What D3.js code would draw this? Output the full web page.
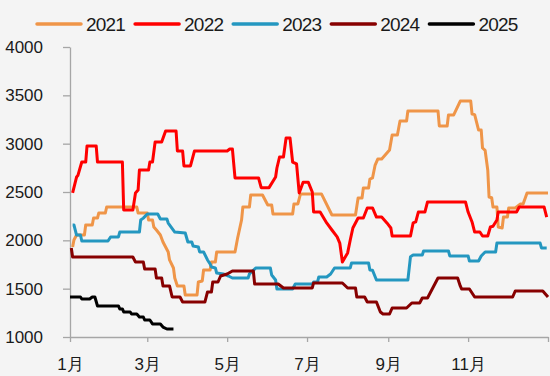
<!DOCTYPE html>
<html>
<head>
<meta charset="utf-8">
<script src="https://cdn.jsdelivr.net/npm/d3@7"></script>
<style>
  body { margin: 0; background: #f4f4f4; }
  svg { display: block; font-family: "Liberation Sans", Arial, "Noto Sans CJK SC", sans-serif; }
</style>
</head>
<body>
<div id="chart"></div>
<script>
// series: [day of year, value]
const years = ["2021", "2022", "2023", "2024", "2025"];
const colors = ["#ef9548", "#ff0000", "#2497c0", "#870000", "#000000"];

const s2021 = [[2,1931],[3,2003],[5,2055],[11,2055],[12,2159],[17,2159],[18,2231],[21,2231],[22,2283],[27,2283],[28,2345],[51,2345],[52,2283],[59,2283],[60,2210],[63,2210],[64,2138],[66,2107],[69,2055],[71,1983],[73,1931],[75,1880],[76,1797],[79,1714],[80,1610],[82,1528],[87,1528],[88,1434],[97,1434],[98,1569],[101,1580],[102,1693],[107,1693],[108,1776],[111,1776],[112,1880],[126,1880],[128,2024],[129,2086],[131,2210],[132,2345],[137,2345],[138,2469],[147,2469],[151,2366],[154,2366],[155,2272],[170,2272],[171,2376],[174,2376],[176,2480],[192,2480],[200,2262],[218,2262],[220,2438],[223,2438],[224,2541],[228,2541],[229,2634],[231,2645],[233,2779],[235,2841],[238,2841],[242,2903],[244,2935],[246,3090],[250,3090],[252,3234],[257,3234],[258,3338],[281,3338],[282,3183],[288,3183],[289,3297],[293,3297],[298,3441],[306,3441],[307,3307],[309,3300],[312,3141],[314,3141],[315,2955],[317,2930],[319,2728],[320,2448],[322,2440],[323,2345],[326,2345],[327,2138],[330,2128],[331,2241],[334,2241],[335,2335],[340,2335],[344,2376],[346,2376],[349,2490],[365,2490]];

const s2022 = [[2,2490],[5,2655],[6,2670],[9,2810],[12,2810],[13,2976],[20,2976],[21,2810],[40,2810],[41,2314],[48,2314],[50,2490],[52,2520],[53,2727],[60,2727],[61,2810],[63,2810],[65,3017],[70,3017],[73,3131],[81,3131],[82,2924],[86,2924],[87,2770],[92,2770],[95,2924],[120,2924],[122,2945],[124,2945],[126,2645],[144,2645],[146,2545],[152,2545],[157,2655],[158,2748],[160,2862],[163,2862],[165,3059],[168,3059],[170,2810],[173,2790],[175,2490],[178,2600],[182,2600],[185,2500],[186,2293],[191,2293],[196,2180],[200,2107],[204,2035],[206,1972],[208,1776],[212,1870],[214,2003],[216,2128],[220,2231],[224,2231],[227,2335],[231,2335],[234,2241],[238,2241],[242,2180],[245,2128],[246,2045],[260,2045],[262,2180],[264,2190],[266,2293],[271,2293],[273,2397],[302,2397],[304,2293],[307,2190],[309,2086],[313,2086],[315,2045],[319,2045],[321,2138],[323,2145],[326,2210],[327,2293],[341,2293],[343,2345],[362,2345],[364,2241]];

const s2023 = [[2,2159],[3,2159],[5,2055],[8,2055],[9,1993],[29,1993],[31,2035],[37,2035],[38,2086],[53,2086],[54,2210],[56,2230],[59,2272],[67,2272],[69,2221],[74,2221],[75,2179],[80,2086],[88,2076],[90,1983],[93,1983],[94,1941],[98,1931],[99,1880],[102,1880],[105,1797],[107,1755],[108,1724],[111,1714],[112,1662],[117,1652],[121,1631],[124,1610],[136,1610],[137,1652],[142,1714],[153,1714],[154,1641],[157,1590],[158,1497],[170,1497],[172,1548],[185,1548],[186,1569],[189,1569],[190,1621],[196,1621],[199,1652],[202,1714],[214,1714],[215,1766],[228,1766],[229,1693],[231,1690],[234,1590],[258,1590],[260,1831],[262,1848],[269,1848],[270,1890],[289,1890],[290,1838],[304,1838],[305,1786],[312,1786],[314,1838],[317,1880],[325,1880],[326,1972],[359,1972],[360,1921],[364,1921]];

const s2024 = [[1,1921],[2,1828],[48,1828],[50,1776],[56,1776],[57,1703],[65,1703],[66,1610],[70,1610],[71,1528],[76,1528],[78,1414],[84,1414],[86,1362],[103,1362],[105,1466],[108,1466],[109,1569],[113,1569],[115,1631],[120,1652],[124,1683],[140,1683],[141,1548],[159,1548],[163,1507],[185,1507],[186,1559],[208,1559],[212,1507],[218,1507],[219,1414],[225,1414],[227,1362],[234,1362],[237,1259],[239,1238],[244,1238],[246,1300],[257,1300],[261,1352],[267,1352],[269,1403],[273,1403],[281,1610],[296,1610],[298,1528],[299,1497],[305,1497],[309,1414],[338,1414],[340,1476],[361,1476],[365,1414]];

const s2025 = [[0,1414],[8,1414],[9,1393],[15,1393],[17,1414],[19,1414],[21,1321],[37,1321],[38,1290],[40,1290],[41,1259],[46,1259],[47,1238],[51,1238],[53,1207],[56,1207],[57,1176],[61,1176],[63,1135],[69,1135],[71,1103],[74,1083],[79,1083]];

const series = [s2021, s2022, s2023, s2024, s2025];
const yTicks = [1000, 1500, 2000, 2500, 3000, 3500, 4000];
const monthTicks = [0, 2, 4, 6, 8, 10, 12];

const W = 550, H = 376;
const margin = {top: 47, right: 2, bottom: 39, left: 70};

const svg = d3.select("#chart").append("svg")
    .attr("width", W)
    .attr("height", H);

svg.append("rect").attr("width", W).attr("height", H).attr("fill", "#f4f4f4");

const start = new Date(2021, 0, 1);
const x = d3.scaleTime()
    .domain([start, new Date(2022, 0, 1)])
    .range([margin.left, W - margin.right]);
const y = d3.scaleLinear()
    .domain([1000, 4000])
    .range([H - margin.bottom, margin.top]);

const day = d => d3.timeDay.offset(start, d);

// axes
const xAxis = svg.append("g")
    .attr("transform", `translate(0,${H - margin.bottom})`)
    .call(d3.axisBottom(x)
        .tickValues(monthTicks.map(m => new Date(2021, m, 1)))
        .tickFormat(d => d.getFullYear() > 2021 ? "" : (d.getMonth() + 1) + "月")
        .tickSize(5)
        .tickSizeOuter(0)
        .tickPadding(16));

const yAxis = svg.append("g")
    .attr("transform", `translate(${margin.left},0)`)
    .call(d3.axisLeft(y)
        .tickValues(yTicks)
        .tickFormat(d3.format("d"))
        .tickSize(7)
        .tickSizeOuter(0)
        .tickPadding(20));

[xAxis, yAxis].forEach(a => {
    a.select(".domain").attr("stroke", "#a6a6a6").attr("stroke-width", 1.3);
    a.selectAll(".tick line").attr("stroke", "#a6a6a6").attr("stroke-width", 1.3);
    a.selectAll("text").attr("fill", "#1a1a1a").style("font-size", "17px");
});

// lines
const line = d3.line()
    .x(d => x(day(d[0])))
    .y(d => y(d[1]));

svg.append("g").selectAll("path")
    .data(series)
    .join("path")
    .attr("d", line)
    .attr("fill", "none")
    .attr("stroke", (d, i) => colors[i])
    .attr("stroke-width", 3)
    .attr("stroke-linejoin", "round");

// legend
const legend = svg.append("g")
    .selectAll("g")
    .data(years)
    .join("g")
    .attr("transform", (d, i) => `translate(${37 + i * 98.1},24)`);

legend.append("line")
    .attr("x1", 0).attr("x2", 44)
    .attr("stroke", (d, i) => colors[i])
    .attr("stroke-width", 3.5)
    .attr("stroke-linecap", "round");

legend.append("text")
    .attr("x", 49)
    .attr("dy", "0.36em")
    .attr("fill", "#1a1a1a")
    .style("font-size", "19px")
    .style("letter-spacing", "-0.8px")
    .text(d => d);
</script>
</body>
</html>
